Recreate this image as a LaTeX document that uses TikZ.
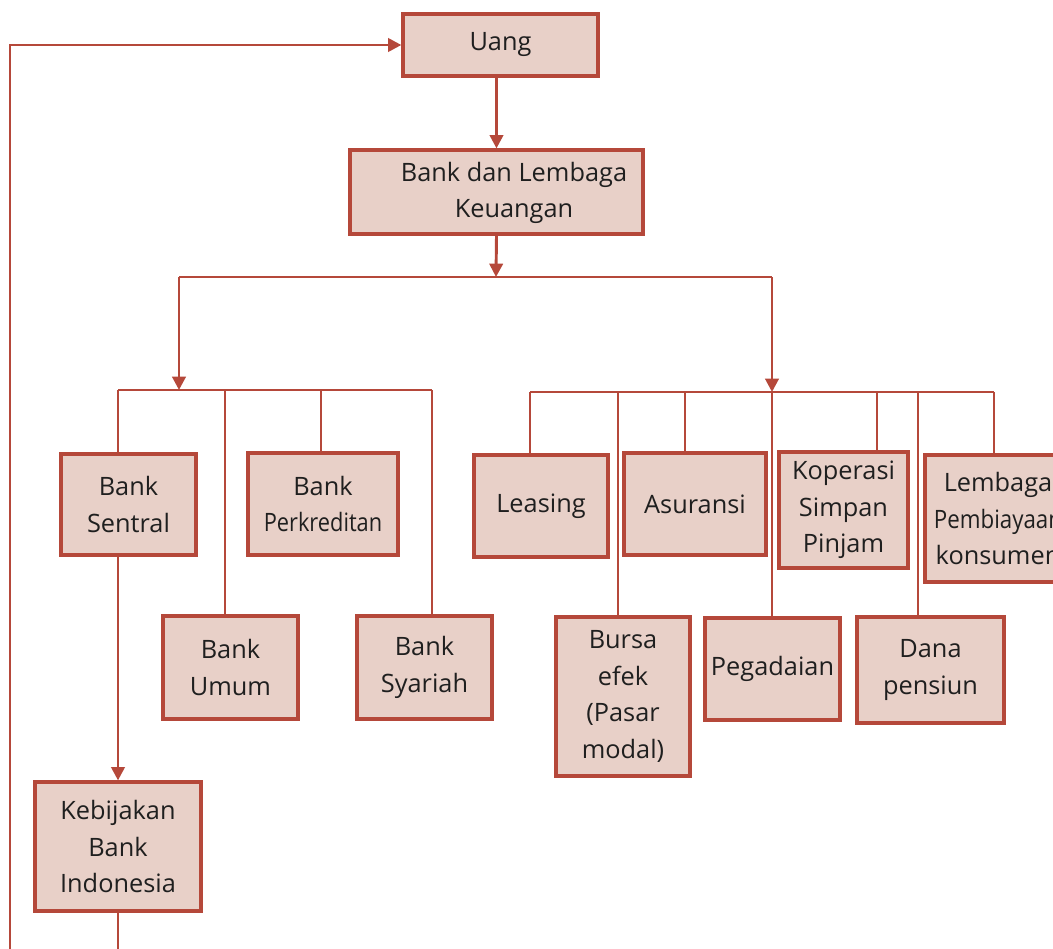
\documentclass[tikz,border=0pt]{standalone}
\usepackage{fontspec}
\setmainfont{Open Sans}
\usepackage{graphicx}
\usetikzlibrary{arrows.meta}
\definecolor{edgec}{HTML}{B5483A}
\definecolor{fillc}{HTML}{E8D0C8}
\begin{document}
\begin{tikzpicture}[x=0.75pt,y=-0.75pt,
  box/.style={draw=edgec, fill=fillc, line width=2.4pt, inner sep=0pt, align=center,
    font=\fontsize{19pt}{27.5pt}\selectfont, text=black!88},
  corners/.style n args={4}{minimum width={(#3-#1)*0.75pt}, minimum height={(#4-#2)*0.75pt},
    at={({(#1+#3)/2},{(#2+#4)/2})}},
  txt/.style={inner sep=0pt, align=center, font=\fontsize{19pt}{27.5pt}\selectfont, text=black!88},
  conn/.style={draw=edgec, line width=2.2pt},
  arr/.style={conn, -{Triangle[length=10pt,width=10pt]}}]
\useasboundingbox (0,0) rectangle (1053,949);
\clip (0,0) rectangle (1053,949);
% boxes
\node[box, corners={403}{14}{598}{76}] (uang) {Uang};
\node[box, corners={350}{150}{643}{234}] (bdl) {};
\node[txt] (bdltext) at (514,193) {Bank dan Lembaga\\Keuangan};
\node[box, corners={61}{454}{196}{555}] (sentral) {Bank\\Sentral};
\node[box, corners={248}{453}{398}{555}] (perk) {Bank\\\scalebox{0.86}[1]{Perkreditan}};
\node[box, corners={163}{616}{298}{719}] (umum) {Bank\\Umum};
\node[box, corners={357}{616}{492}{719}] (syariah) {Bank\\Syariah};
\node[box, corners={474}{455}{608}{557}] (leasing) {Leasing};
\node[box, corners={624}{453}{766}{555}] (asuransi) {Asuransi};
\node[box, corners={779}{452}{908}{568}] (koperasi) {Koperasi\\Simpan\\Pinjam};
\node[box, corners={925}{455}{1071}{582}] (lembaga) {Lembaga\\\scalebox{0.88}[1]{Pembiayaan}\\konsumen};
\node[box, corners={556}{617}{690}{776}] (bursa) {Bursa\\efek\\(Pasar\\modal)};
\node[box, corners={705}{618}{840}{720}] (pegadaian) {Pegadaian};
\node[box, corners={857}{617}{1004}{723}] (dana) {Dana\\pensiun};
\node[box, corners={35}{782}{201}{911}] (kbi) {Kebijakan\\Bank\\Indonesia};
% top connectors
\draw[arr] (bdl.north |- uang.south) -- (bdl.north);
\coordinate (split) at (496,277);
\coordinate (hl) at (179,277);
\coordinate (hr) at (772,277);
\draw[arr] (bdl.south) -- (split);
\draw[conn] (hl) -- (hr);
\coordinate (lbus) at (179,390);
\coordinate (rbus) at (772,392);
\draw[arr] (hl) -- (lbus);
\draw[arr] (hr) -- (rbus);
% left bus
\coordinate (l1) at (118,390);
\coordinate (l2) at (225,390);
\coordinate (l3) at (321,390);
\coordinate (l4) at (432,390);
\draw[conn] (l1) -- (l4);
\draw[conn] (l1) -- (l1 |- sentral.north);
\draw[conn] (l2) -- (l2 |- umum.north);
\draw[conn] (l3) -- (l3 |- perk.north);
\draw[conn] (l4) -- (l4 |- syariah.north);
% right bus
\coordinate (r1) at (530,392);
\coordinate (r2) at (618,392);
\coordinate (r3) at (685,392);
\coordinate (r4) at (772,392);
\coordinate (r5) at (877,392);
\coordinate (r6) at (918,392);
\coordinate (r7) at (994,392);
\draw[conn] (r1) -- (r7);
\draw[conn] (r1) -- (r1 |- leasing.north);
\draw[conn] (r2) -- (r2 |- bursa.north);
\draw[conn] (r3) -- (r3 |- asuransi.north);
\draw[conn] (r4) -- (r4 |- pegadaian.north);
\draw[conn] (r5) -- (r5 |- koperasi.north);
\draw[conn] (r6) -- (r6 |- dana.north);
\draw[conn] (r7) -- (r7 |- lembaga.north);
% central bank policy and feedback loop
\draw[arr] (kbi.north |- sentral.south) -- (kbi.north);
\coordinate (lowL) at (10,965);
\draw[arr] (kbi.south) -- (kbi.south |- lowL) -- (lowL) -- (lowL |- uang.west) -- (uang.west);
\end{tikzpicture}
\end{document}
